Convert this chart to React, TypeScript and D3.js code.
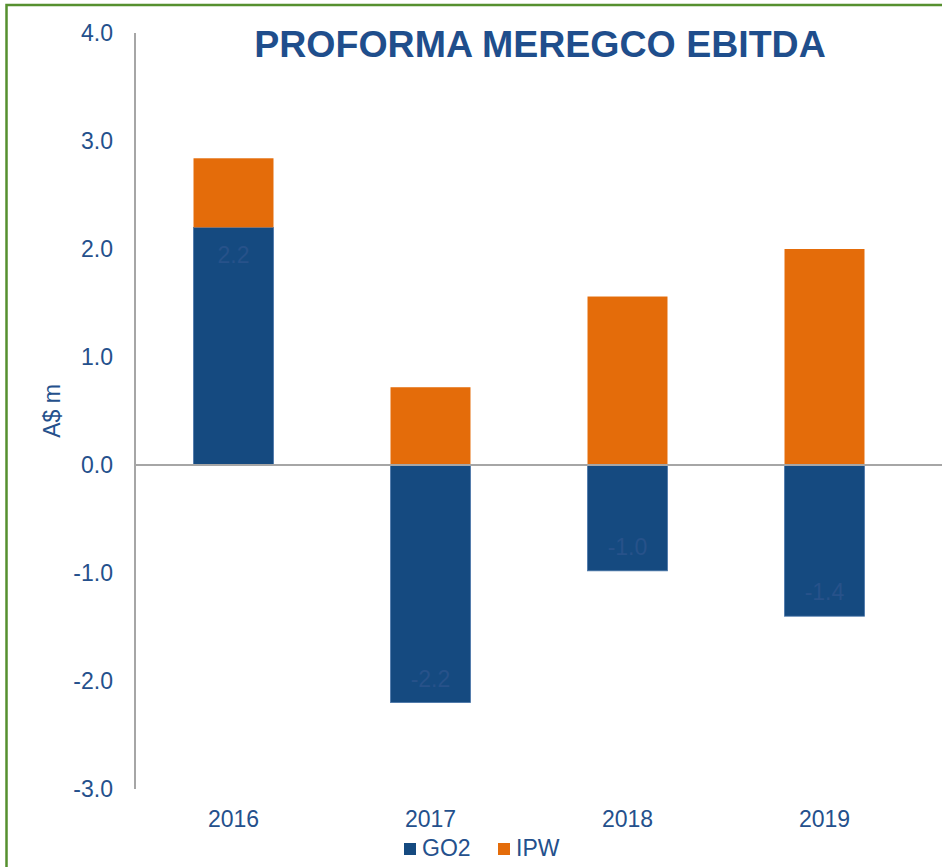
import React, { useEffect, useRef } from 'react';
import * as d3 from 'd3';

const years = ['2016', '2017', '2018', '2019'];
const go2 = [2.2, -2.2, -0.98, -1.4];
const ipw = [0.64, 0.72, 1.56, 2.0];
const yTicks = [4, 3, 2, 1, 0, -1, -2, -3];
const seriesNames = ['GO2', 'IPW'];

const W = 942;
const H = 867;
const BLUE = '#154a80';
const ORANGE = '#e46c0a';
const TEXT = '#24508c';
const FONT = '"Liberation Sans", Arial, sans-serif';

const App: React.FC = () => {
  const svgRef = useRef<SVGSVGElement>(null);

  useEffect(() => {
    if (!svgRef.current) return;
    const svg = d3.select(svgRef.current);
    svg.selectAll('*').remove();

    // frame
    svg.append('rect')
      .attr('x', 6.5)
      .attr('y', 5)
      .attr('width', W + 20)
      .attr('height', H + 20)
      .attr('fill', 'white')
      .attr('stroke', '#56902f')
      .attr('stroke-width', 2.5);

    const x = d3.scaleBand<string>()
      .domain(years)
      .range([135, 923])
      .paddingInner(0.594)
      .paddingOuter(0.297);

    const y = d3.scaleLinear()
      .domain([-3, 4])
      .range([789, 33]);

    // y axis line
    svg.append('line')
      .attr('x1', 135).attr('x2', 135)
      .attr('y1', y(4)).attr('y2', y(-3))
      .attr('stroke', '#a6a6a6')
      .attr('stroke-width', 2);

    // y tick labels
    svg.selectAll('.ytick')
      .data(yTicks)
      .enter()
      .append('text')
      .attr('class', 'ytick')
      .attr('x', 113)
      .attr('y', d => y(d) + 8)
      .attr('text-anchor', 'end')
      .style('font-family', FONT)
      .style('font-size', '23px')
      .style('fill', TEXT)
      .text(d => d.toFixed(1));

    // y axis title
    svg.append('text')
      .attr('transform', 'translate(60,411) rotate(-90)')
      .attr('text-anchor', 'middle')
      .style('font-family', FONT)
      .style('font-size', '23px')
      .style('fill', TEXT)
      .text('A$ m');

    // GO2 bars
    svg.selectAll('.go2')
      .data(go2)
      .enter()
      .append('rect')
      .attr('class', 'go2')
      .attr('x', (d, i) => x(years[i])!)
      .attr('width', x.bandwidth())
      .attr('y', d => y(Math.max(0, d)))
      .attr('height', d => Math.abs(y(d) - y(0)))
      .attr('fill', BLUE)
      .attr('stroke', '#4a76a8')
      .attr('stroke-width', 0.8);

    // IPW bars stacked on positive side
    svg.selectAll('.ipw')
      .data(ipw)
      .enter()
      .append('rect')
      .attr('class', 'ipw')
      .attr('x', (d, i) => x(years[i])!)
      .attr('width', x.bandwidth())
      .attr('y', (d, i) => y(Math.max(0, go2[i]) + d))
      .attr('height', d => y(0) - y(d))
      .attr('fill', ORANGE);

    // zero line
    svg.append('line')
      .attr('x1', 135).attr('x2', W)
      .attr('y1', y(0)).attr('y2', y(0))
      .attr('stroke', '#a6a6a6')
      .attr('stroke-width', 2);

    // GO2 value labels (inside end)
    svg.selectAll('.go2label')
      .data(go2)
      .enter()
      .append('text')
      .attr('class', 'go2label')
      .attr('x', (d, i) => x(years[i])! + x.bandwidth() / 2)
      .attr('y', d => (d > 0 ? y(d) + 36 : y(d) - 16))
      .attr('text-anchor', 'middle')
      .style('font-family', FONT)
      .style('font-size', '23px')
      .style('fill', '#27528a')
      .text(d => d.toFixed(1));

    // x labels
    svg.selectAll('.xlabel')
      .data(years)
      .enter()
      .append('text')
      .attr('class', 'xlabel')
      .attr('x', d => x(d)! + x.bandwidth() / 2)
      .attr('y', 827)
      .attr('text-anchor', 'middle')
      .style('font-family', FONT)
      .style('font-size', '23px')
      .style('fill', TEXT)
      .text(d => d);

    // title
    svg.append('text')
      .attr('x', 540)
      .attr('y', 57)
      .attr('text-anchor', 'middle')
      .style('font-family', FONT)
      .style('font-size', '37.5px')
      .style('font-weight', 'bold')
      .style('fill', '#1f4e8c')
      .text('PROFORMA MEREGCO EBITDA');

    // legend
    const legend = svg.append('g').attr('transform', 'translate(404,843)');
    const legendX = [0, 94];
    seriesNames.forEach((name, i) => {
      legend.append('rect')
        .attr('x', legendX[i])
        .attr('y', 0)
        .attr('width', 12)
        .attr('height', 12)
        .attr('fill', i === 0 ? BLUE : ORANGE);
      legend.append('text')
        .attr('x', legendX[i] + 18)
        .attr('y', 13)
        .style('font-family', FONT)
        .style('font-size', '23px')
        .style('fill', TEXT)
        .text(name);
    });
  }, []);

  return (
    <div style={{ position: 'fixed', left: 0, top: 0 }}>
      <svg ref={svgRef} width={W} height={H} style={{ display: 'block' }}></svg>
    </div>
  );
};

export default App;
